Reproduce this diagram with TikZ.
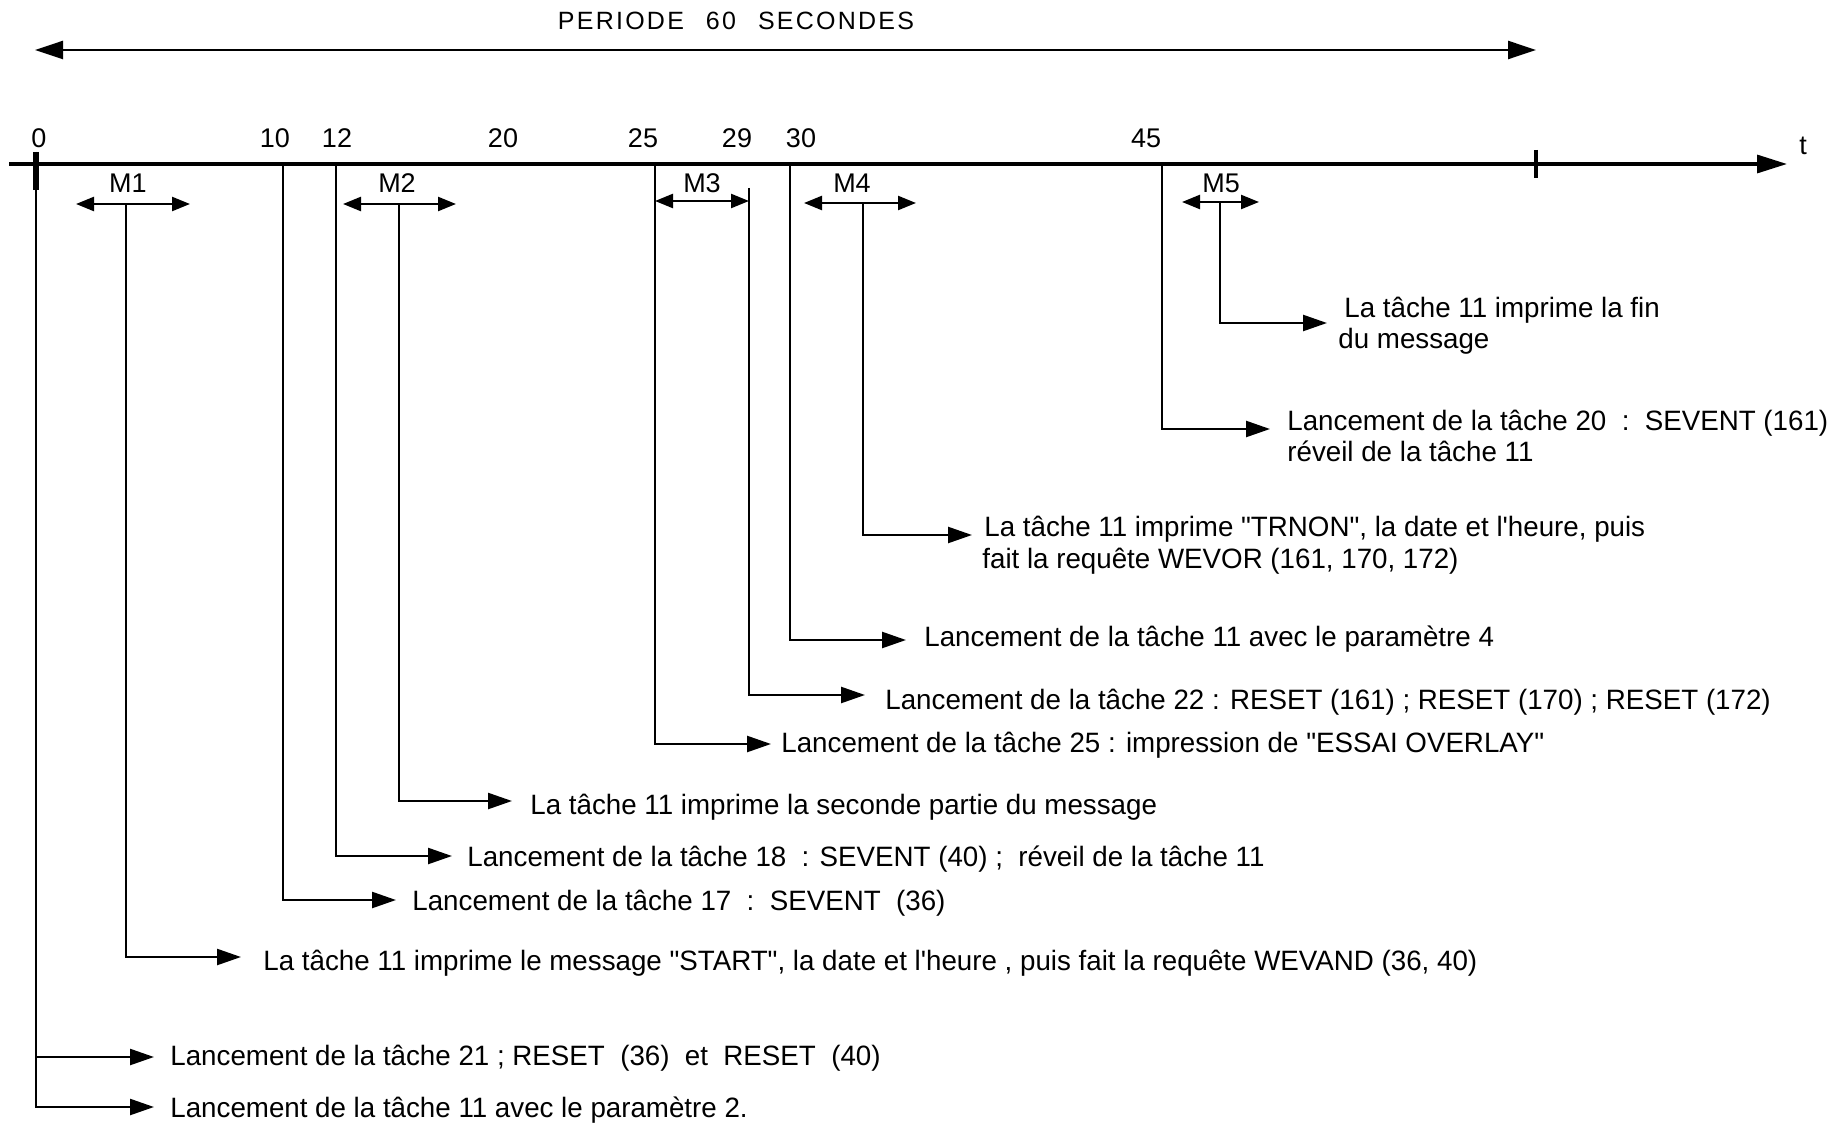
\documentclass[tikz,border=0pt]{standalone}
\usepackage{fontspec}
\setmainfont{Liberation Sans}
\newfontfamily\txtfont[FakeStretch=0.99]{Liberation Sans}
\newfontfamily\ttlfont[LetterSpace=9]{Liberation Sans}
\usetikzlibrary{arrows.meta}
\begin{document}
\begin{tikzpicture}[x=0.5pt,y=-0.5pt,
 stem/.style={line width=1.2pt},
 evarrow/.style={line width=1.2pt,-{Triangle[length=12pt,width=8pt]}},
 dbl/.style={line width=1.2pt,{Triangle[length=9pt,width=7pt]}-{Triangle[length=9pt,width=7pt]}},
 axisline/.style={line width=1.6pt,-{Triangle[length=15pt,width=9pt]}},
 periodline/.style={line width=1.2pt,{Triangle[length=14pt,width=9pt]}-{Triangle[length=14pt,width=9pt]}},
 txt/.style={anchor=west,inner sep=0pt,text height=10pt,text depth=0pt,font=\txtfont\fontsize{14}{16}\selectfont},
 lbl/.style={inner sep=0pt,font=\fontsize{13.5}{15}\selectfont},
 ttl/.style={inner sep=0pt,font=\ttlfont\fontsize{12.5}{14}\selectfont}]
\useasboundingbox[fill=white] (0,0) rectangle (1841,1123);

% title and period
\node[ttl] (title) at (736,21) {PERIODE\hspace{11pt}60\hspace{11pt}SECONDES};
\coordinate (pL) at (35,50);
\coordinate (pR) at (1536,50);
\draw[periodline] (pL) -- (pR);

% time axis
\coordinate (ax0) at (9,164);
\coordinate (axE) at (1787,164);
\draw[axisline] (ax0) -- (axE);
\node[lbl] (tl) at (1803,146) {t};
\coordinate (e1) at (1536,150);
\coordinate (e2) at (1536,178);
\draw[line width=2pt] (e1) -- (e2);

% tick labels
\node[lbl] (l0) at (39,138) {0};
\node[lbl] (l10) at (275,138) {10};
\node[lbl] (l12) at (337,138) {12};
\node[lbl] (l20) at (503,138) {20};
\node[lbl] (l25) at (643,138) {25};
\node[lbl] (l29) at (737,138) {29};
\node[lbl] (l30) at (801,138) {30};
\node[lbl] (l45) at (1146,138) {45};

% message labels
\node[lbl] (lm1) at (128,183) {M1};
\node[lbl] (lm2) at (397,183) {M2};
\node[lbl] (lm3) at (702,183) {M3};
\node[lbl] (lm4) at (852,183) {M4};
\node[lbl] (lm5) at (1221,183) {M5};

% axis points
\coordinate (z0) at (36,152);
\coordinate (z1) at (36,190);
\coordinate (a10) at (283,164);
\coordinate (a12) at (336,164);
\coordinate (a25) at (655,164);
\coordinate (a29) at (749,188);
\coordinate (a30) at (790,164);
\coordinate (a45) at (1162,164);

% message intervals
\coordinate (m1L) at (76,204);  \coordinate (m1R) at (190,204); \coordinate (m1) at (126,204);
\coordinate (m2L) at (343,204); \coordinate (m2R) at (456,204); \coordinate (m2) at (399,204);
\coordinate (m3L) at (655,201); \coordinate (m3R) at (749,201);
\coordinate (m4L) at (804,203); \coordinate (m4R) at (916,203); \coordinate (m4) at (863,203);
\coordinate (m5L) at (1182,202);\coordinate (m5R) at (1259,202);\coordinate (m5) at (1220,202);
\draw[dbl] (m1L) -- (m1R);
\draw[dbl] (m2L) -- (m2R);
\draw[dbl] (m3L) -- (m3R);
\draw[dbl] (m4L) -- (m4R);
\draw[dbl] (m5L) -- (m5R);

% texts
\node[txt] (tm5a) at (1344,307) {La tâche 11 imprime la fin};
\node[txt] (tm5b) at (1338,338) {du message};
\node[txt] (t45a) at (1287,420) {Lancement de la tâche 20\ \ :\ \ SEVENT (161)};
\node[txt] (t45b) at (1287,451) {réveil de la tâche 11};
\node[txt] (tm4a) at (984,526) {La tâche 11 imprime "TRNON", la date et l'heure, puis};
\node[txt] (tm4b) at (982,558) {fait la requête WEVOR (161, 170, 172)};
\node[txt] (t30) at (924,636) {Lancement de la tâche 11 avec le paramètre 4};
\node[txt] (t29) at (885,699) {Lancement de la tâche 22 : RESET (161) ; RESET (170) ; RESET (172)};
\node[txt] (t25) at (781,742) {Lancement de la tâche 25 : impression de "ESSAI OVERLAY"};
\node[txt] (tm2) at (530,804) {La tâche 11 imprime la seconde partie du message};
\node[txt] (t12) at (467,856) {Lancement de la tâche 18\ \ : SEVENT (40) ;\ \ réveil de la tâche 11};
\node[txt] (t10) at (412,900) {Lancement de la tâche 17\ \ :\ \ SEVENT\ \ (36)};
\node[txt] (tm1) at (263,960) {La tâche 11 imprime le message "START", la date et l'heure , puis fait la requête WEVAND (36, 40)};
\node[txt] (t0a) at (170,1055) {Lancement de la tâche 21 ; RESET\ \ (36)\ \ et\ \ RESET\ \ (40)};
\node[txt] (t0b) at (170,1107) {Lancement de la tâche 11 avec le paramètre 2.};

% connectors
\draw[line width=2.6pt] (z0) -- (z1);
\draw[evarrow] (z0) |- ([xshift=-8pt,yshift=-1pt]t0a.west);
\draw[evarrow] (z0) |- ([xshift=-8pt]t0b.west);
\draw[evarrow] (m1) |- ([xshift=-11pt,yshift=1.5pt]tm1.west);
\draw[evarrow] (a10) |- ([xshift=-8pt]t10.west);
\draw[evarrow] (a12) |- ([xshift=-7.5pt]t12.west);
\draw[evarrow] (m2) |- ([xshift=-9pt,yshift=1.5pt]tm2.west);
\draw[evarrow] (a25) |- ([xshift=-5pt,yshift=-1pt]t25.west);
\draw[evarrow] (a29) |- ([xshift=-10pt,yshift=2pt]t29.west);
\draw[evarrow] (a30) |- ([xshift=-9pt,yshift=-2pt]t30.west);
\draw[evarrow] (m4) |- ([xshift=-6pt,yshift=-4.5pt]tm4a.west);
\draw[evarrow] (a45) |- ([xshift=-8.5pt,yshift=-4.5pt]t45a.west);
\draw[evarrow] (m5) |- ([xshift=-8.5pt,yshift=-8pt]tm5a.west);
\end{tikzpicture}
\end{document}
